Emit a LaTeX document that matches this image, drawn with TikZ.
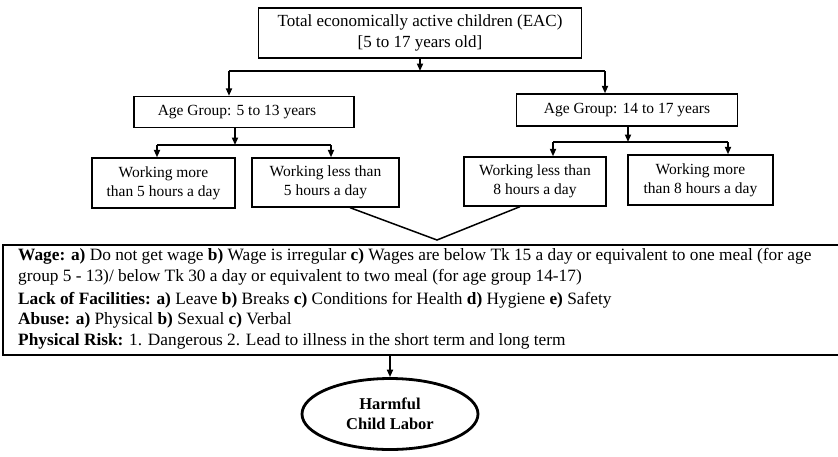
\documentclass[tikz,border=0pt]{standalone}
\usepackage{fontspec}
\setmainfont{Liberation Serif}
\usetikzlibrary{arrows.meta,shapes.geometric}
\begin{document}
\begin{tikzpicture}[x=1pt,y=-1pt,
  box/.style={draw,line width=1.3pt,inner sep=0pt,align=center,font=\fontsize{15.5}{19}\selectfont},
  conn/.style={line width=1.8pt},
  arr/.style={line width=1.8pt,-{Triangle[length=7.5pt,width=6pt]}},
  info/.style={anchor=west,inner sep=0pt,font=\fontsize{17.3}{20}\selectfont}]
\useasboundingbox[fill=white] (0,0) rectangle (838,456);
% top box
\node[box,minimum width=323pt,minimum height=50pt,font=\fontsize{17}{21}\selectfont] (top) at (420,33)
  {Total economically active children (EAC)\\ {[}5 to 17 years old{]}};
\coordinate (jL) at (229,71);
\coordinate (jR) at (605,71);
\node[box,minimum width=220pt,minimum height=31pt] (ageL) at (244,112) {Age Group: 5 to 13 years\hspace*{14pt}};
\node[box,minimum width=221pt,minimum height=32pt] (ageR) at (627,110) {Age Group: 14 to 17 years};
\draw[arr] (top.south) -- (top.south |- jL);
\draw[conn] (jL) -- (jR);
\draw[arr] (jL) -- (jL |- ageL.north);
\draw[arr] (jR) -- (jR |- ageR.north);
% sub boxes
\node[box,minimum width=143pt,minimum height=50pt] (b1) at (163.5,183) {Working more\\ than 5 hours a day};
\node[box,minimum width=147pt,minimum height=49pt] (b2) at (325.5,182.5) {Working less than\\ 5 hours a day};
\node[box,minimum width=142pt,minimum height=49pt] (b3) at (535,181.5) {Working less than\\ 8 hours a day};
\node[box,minimum width=145pt,minimum height=50pt] (b4) at (700.5,180) {Working more\\ than 8 hours a day};
\coordinate (sL1) at (157,145);
\coordinate (sL2) at (331,145);
\coordinate (sR1) at (553,142);
\coordinate (sR2) at (728,142);
\draw[arr] (235,0 |- ageL.south) -- (235,145);
\draw[conn] (sL1) -- (sL2);
\draw[arr] (sL1) -- (sL1 |- b1.north);
\draw[arr] (sL2) -- (sL2 |- b2.north);
\draw[arr] (628,0 |- ageR.south) -- (628,142);
\draw[conn] (sR1) -- (sR2);
\draw[arr] (sR1) -- (sR1 |- b3.north);
\draw[arr] (sR2) -- (sR2 |- b4.north);
% V shape
\coordinate (v) at (437,240);
\draw[conn,line width=1.5pt] (350,0 |- b2.south) -- (v) -- (520,0 |- b3.south);
% info box
\node[draw,line width=1.3pt,minimum width=847pt,minimum height=110pt,inner sep=0pt] (infobox) at (426.5,300) {};
\node[info] (l1) at (18,256) {\textbf{Wage: a)} Do not get wage \textbf{b)} Wage is irregular \textbf{c)} Wages are below Tk 15 a day or equivalent to one meal (for age};
\node[info] (l2) at (18,277) {group 5 - 13)/ below Tk 30 a day or equivalent to two meal (for age group 14-17)};
\node[info] (l3) at (18,300) {\textbf{Lack of Facilities: a)} Leave \textbf{b)} Breaks \textbf{c)} Conditions for Health \textbf{d)} Hygiene \textbf{e)} Safety};
\node[info] (l4) at (18,320) {\textbf{Abuse: a)} Physical \textbf{b)} Sexual \textbf{c)} Verbal};
\node[info] (l5) at (18,341) {\textbf{Physical Risk:} 1. Dangerous 2. Lead to illness in the short term and long term};
% ellipse
\node[ellipse,draw,line width=2.8pt,minimum width=176pt,minimum height=71pt,inner sep=0pt,align=center,font=\bfseries\fontsize{16.5}{20}\selectfont] (harm) at (390,414) {Harmful\\ Child Labor};
\draw[arr] (390,0 |- infobox.south) -- (harm.north);
\end{tikzpicture}
\end{document}
